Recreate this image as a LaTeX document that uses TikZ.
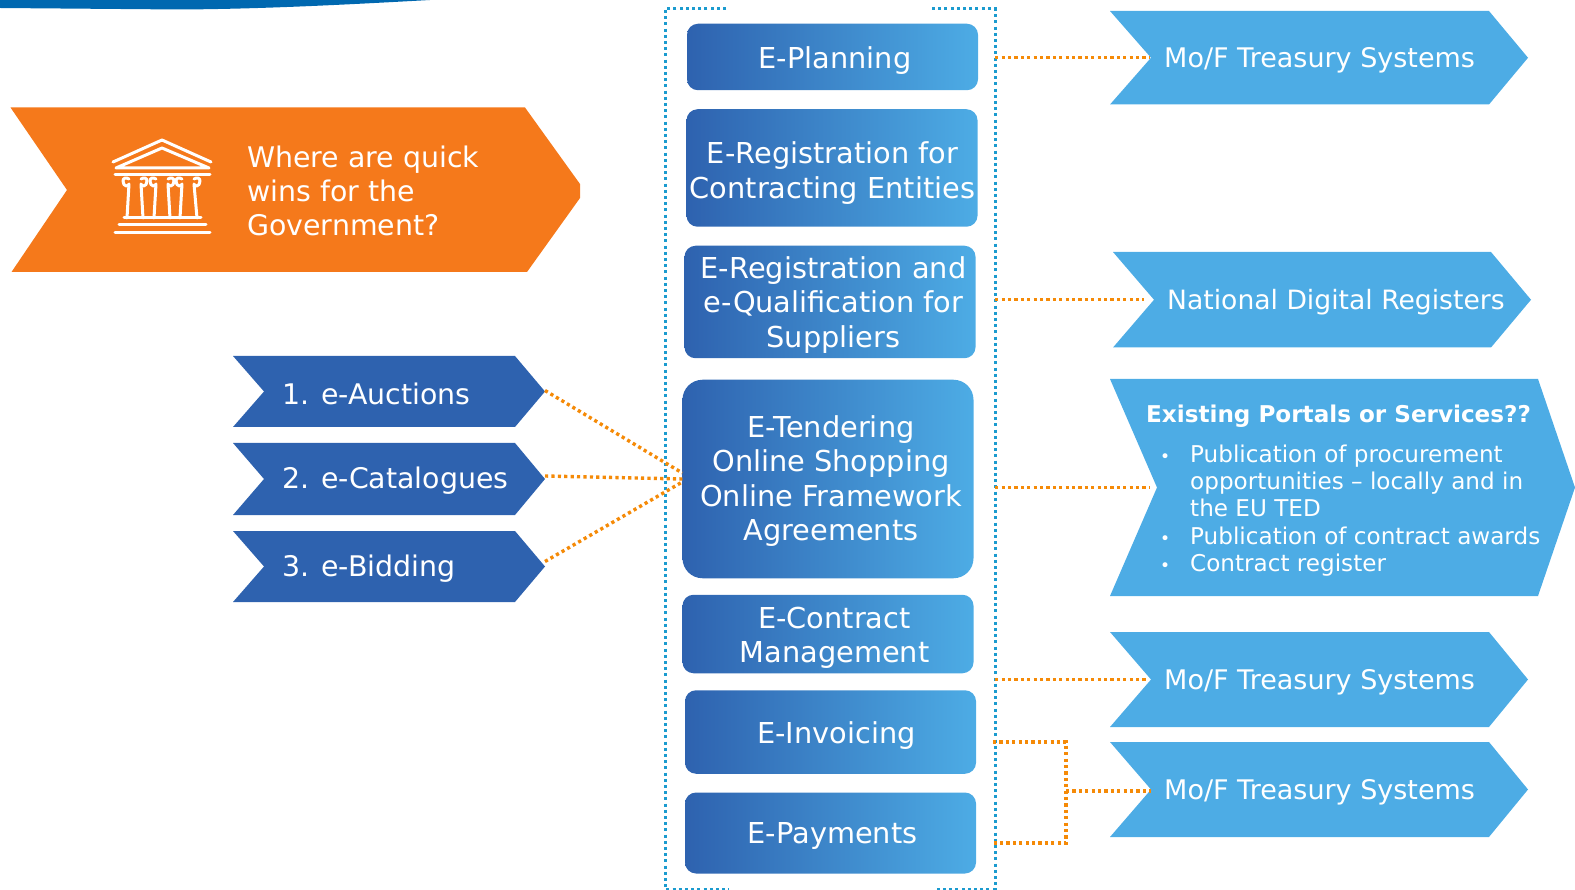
\documentclass[tikz,border=0pt]{standalone}
\usepackage{fontspec}
\setmainfont{DejaVu Sans}
\usepackage{xcolor}
\usetikzlibrary{shapes.geometric}
\definecolor{orangewin}{HTML}{F5791B}
\definecolor{bluedark}{HTML}{2E62AF}
\definecolor{bluelight}{HTML}{4DACE5}
\definecolor{linkorange}{HTML}{F58A07}
\definecolor{framecyan}{HTML}{1B9BCF}
\definecolor{swooshblue}{HTML}{0068B0}
\def\width{1575}
\def\hauteur{890}
% colour, name, left, notch, shoulder, tip, top, bottom
\newcommand{\chevron}[8]{
\fill[#1] (#3,#7) -- (#5,#7) -- (#6,{(#7+#8)/2}) -- (#5,#8) -- (#3,#8) -- (#4,{(#7+#8)/2}) -- cycle;
\coordinate (#2-in) at (#4,{(#7+#8)/2});
\coordinate (#2-out) at (#6,{(#7+#8)/2});
}
\newcommand{\bul}{\llap{{\fontsize{17}{17}\selectfont •}\hspace{20pt}}}
\tikzset{
stage/.style={left color=bluedark, right color=bluelight, rounded corners=11pt, inner sep=0pt, minimum width=291pt},
stagetext/.style={text=white, inner sep=0pt, align=center, font=\fontsize{28.8}{34.3}\selectfont},
rowtext/.style={anchor=west, text=white, inner sep=0pt, align=left, font=\fontsize{28.4}{34}\selectfont},
sidetext/.style={rowtext, font=\fontsize{27}{34}\selectfont},
framedot/.style={framecyan, line width=3pt, dash pattern=on 3pt off 3.2pt},
linkdot/.style={linkorange, line width=3.4pt, dash pattern=on 3.2pt off 3.2pt},
temple/.style={white, line width=3pt, line cap=round, line join=round},
}
\begin{document}
\begin{tikzpicture}[x=1pt, y=-1pt]
\useasboundingbox (0,0) rectangle (\width,\hauteur);
\fill[swooshblue] (0,0) -- (430,0) .. controls (340,5) and (260,9) .. (180,9.5) -- (0,8) -- cycle;
% question banner
\fill[orangewin] (10.5,107.5) -- (525,107.5) -- (580,184) -- (580,198) -- (527,272) -- (11.5,272) -- (67,190) -- cycle;
\node[rowtext] (question) at (247,191) {Where are quick\\wins for the\\Government?};
\draw[temple] (113,162) -- (162,140) -- (211,162);
\draw[temple] (116,168) -- (162,148) -- (209,168) -- cycle;
\draw[temple] (115,175) -- (210,175);
\foreach \cx/\dx in {135/0,162/0,188/1}{
\draw[temple] ({\cx-6},179) .. controls ({\cx-9},177) and ({\cx-12},178) .. ({\cx-12},181) .. controls ({\cx-12},187) and ({\cx-6},187) .. ({\cx-6},184) -- ({\cx-8},218);
\draw[temple] ({\cx+6},179) .. controls ({\cx+9},177) and ({\cx+12},178) .. ({\cx+12},181) .. controls ({\cx+12},187) and ({\cx+6},187) .. ({\cx+6},184) -- ({\cx+8+\dx},218);
}
\draw[temple] (124,218) -- (201,218);
\draw[temple] (119,225) -- (206,225);
\draw[temple] (115,233) -- (210,233);
% left chevrons
\chevron{bluedark}{auction}{233}{264}{515}{545}{356}{427}
\chevron{bluedark}{catalog}{233}{264}{515}{545}{443}{515}
\chevron{bluedark}{bidding}{233}{264}{515}{545}{531}{602}
\node[rowtext] (auctiontxt) at (282,394) {1. e-Auctions};
\node[rowtext] (catalogtxt) at (282,481) {2. e-Catalogues};
\node[rowtext] (biddingtxt) at (282,569) {3. e-Bidding};
% centre column
\node[minimum width=330pt, minimum height=880pt, inner sep=0pt] (frame) at (830,449) {};
\draw[framedot] (726,9) -- (665,9) -- (665,889) -- (729,889);
\draw[framedot] (932,9) -- (995,9) -- (995,889) -- (934,889);
\node[stage, minimum height=66.5pt, label={[stagetext, xshift=2.5pt, yshift=-4pt]center:{E-Planning}}] (planning) at (832.5,57) {};
\node[stage, minimum height=117.5pt, label={[stagetext, xshift=0.5pt, yshift=-5pt]center:{E-Registration for\\Contracting Entities}}] (regentity) at (832,168) {};
\node[stage, minimum height=112.5pt, label={[stagetext, xshift=3.5pt, yshift=-3pt]center:{E-Registration and\\e-Qualification for\\Suppliers}}] (regsupplier) at (830,302) {};
\node[stage, minimum height=198.5pt, rounded corners=20pt, label={[stagetext, xshift=3pt, yshift=-2pt]center:{E-Tendering\\Online Shopping\\Online Framework\\Agreements}}] (tendering) at (828,479) {};
\node[stage, minimum height=78.5pt, label={[stagetext, xshift=6.5pt, yshift=-4pt]center:{E-Contract\\Management}}] (contract) at (828,634) {};
\node[stage, minimum height=83.5pt, label={[stagetext, xshift=6pt, yshift=-4pt]center:{E-Invoicing}}] (invoicing) at (830.5,732) {};
\node[stage, minimum height=81pt, label={[stagetext, xshift=2pt, yshift=-3pt]center:{E-Payments}}] (payments) at (830.5,833) {};
% right chevrons
\chevron{bluelight}{treasury}{1110}{1151}{1489}{1528}{11}{104.5}
\chevron{bluelight}{registers}{1113}{1154}{1491}{1531}{252}{347.5}
\chevron{bluelight}{portals}{1110}{1157}{1538}{1575}{379}{596}
\chevron{bluelight}{treasurytwo}{1110}{1151}{1489}{1528}{632}{727}
\chevron{bluelight}{treasurythree}{1110}{1151}{1489}{1528}{742}{837}
\node[sidetext] (treasurytxt) at (1164,60) {Mo/F Treasury Systems};
\node[sidetext, font=\fontsize{26.6}{34}\selectfont] (registerstxt) at (1167,302) {National Digital Registers};
\node[sidetext] (treasurytwotxt) at (1164,682) {Mo/F Treasury Systems};
\node[sidetext] (treasurythreetxt) at (1164,792) {Mo/F Treasury Systems};
\node[rowtext, font=\fontsize{23.1}{27}\bfseries\selectfont] (portalstitle) at (1146,416) {Existing Portals or Services??};
\node[rowtext, font=\fontsize{23.1}{27.4}\selectfont] (portalslist) at (1190,510.5) {\bul Publication of procurement\\opportunities – locally and in\\the EU TED\\\bul Publication of contract awards\\\bul Contract register};
% links
\draw[linkdot] (frame.east |- treasury-in) -- ([xshift=-2pt]treasury-in);
\draw[linkdot] (frame.east |- registers-in) -- ([xshift=-10pt]registers-in);
\draw[linkdot] (frame.east |- portals-in) -- ([xshift=-8pt]portals-in);
\draw[linkdot] (frame.east |- treasurytwo-in) -- ([xshift=-3pt]treasurytwo-in);
\coordinate (invoicetap) at (993,742);
\coordinate (paymenttap) at (993,843);
\coordinate (joint) at (1066,791);
\draw[linkdot] (invoicetap) -- (invoicetap -| joint) -- (paymenttap -| joint) -- (paymenttap);
\draw[linkdot] (joint) -- (joint -| treasurythree-in);
\draw[linkdot] ([yshift=1pt]auction-out) -- ([yshift=6pt]tendering.west);
\draw[linkdot] ([yshift=3pt]catalog-out) -- (tendering.west);
\draw[linkdot] ([yshift=5pt]bidding-out) -- ([yshift=-3pt]tendering.west);
\end{tikzpicture}
\end{document}
